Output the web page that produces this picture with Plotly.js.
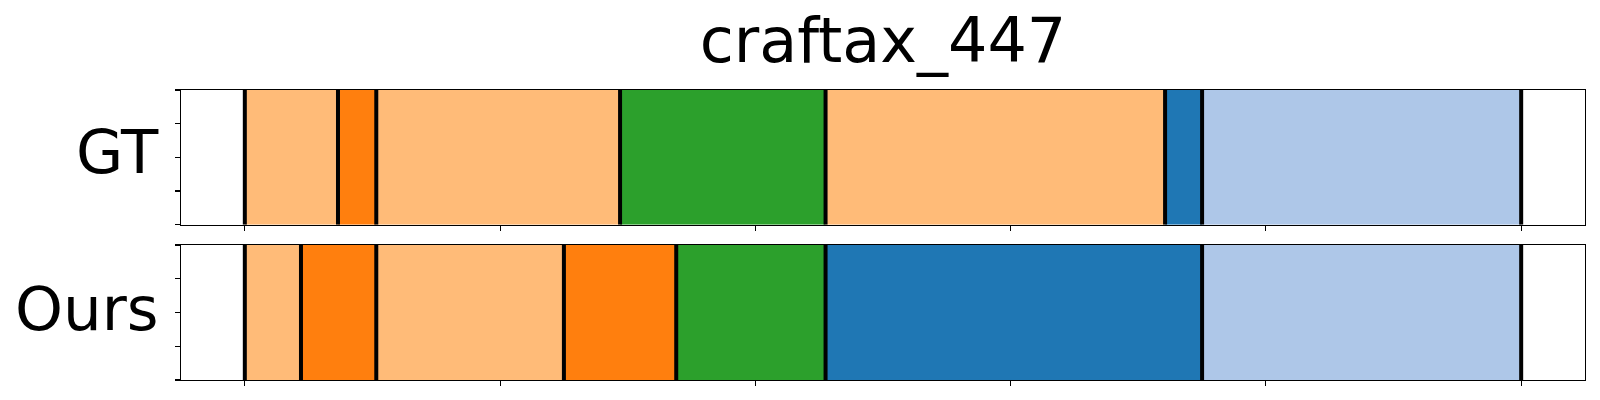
<!DOCTYPE html>
<html>
<head>
<meta charset="utf-8">
<script src="https://cdn.plot.ly/plotly-3.0.1.min.js"></script>
<style>html,body{margin:0;padding:0;background:#fff;}</style>
</head>
<body>
<div id="chart" style="width:1600px;height:400px;"></div>
<script>
// Data
const chartTitle = "craftax_447";
const rowLabels = ["GT", "Ours"];
const gtBoundaries = [0, 36.5, 51.5, 147, 227.5, 360.5, 375, 500];
const gtActions = ["lightorange", "orange", "lightorange", "green", "lightorange", "blue", "lightblue"];
const oursBoundaries = [0, 22, 51.5, 125, 169, 227.5, 375, 500];
const oursActions = ["lightorange", "orange", "lightorange", "orange", "green", "blue", "lightblue"];
const xTicks = [0, 100, 200, 300, 400, 500];
const yTicks = [0, 0.25, 0.5, 0.75, 1];

const palette = {
  lightorange: "#ffbb78",
  orange: "#ff7f0e",
  green: "#2ca02c",
  blue: "#1f77b4",
  lightblue: "#aec7e8"
};

function segTrace(bounds, actions, xa, ya) {
  const starts = bounds.slice(0, -1);
  const widths = starts.map((s, i) => bounds[i + 1] - s);
  return {
    type: "bar", orientation: "h",
    y: starts.map(() => 0.5), x: widths, base: starts, width: 1,
    marker: { color: actions.map(a => palette[a]), line: { width: 0 } },
    xaxis: xa, yaxis: ya, hoverinfo: "skip", showlegend: false
  };
}
function lineTrace(bounds, xa, ya) {
  const xs = [], ys = [];
  bounds.forEach(b => { xs.push(b, b, null); ys.push(0, 1, null); });
  return {
    type: "scatter", mode: "lines", x: xs, y: ys,
    line: { color: "#000", width: 4 },
    xaxis: xa, yaxis: ya, hoverinfo: "skip", showlegend: false, cliponaxis: false
  };
}

const traces = [
  segTrace(gtBoundaries, gtActions, "x", "y"),
  lineTrace(gtBoundaries, "x", "y"),
  segTrace(oursBoundaries, oursActions, "x2", "y2"),
  lineTrace(oursBoundaries, "x2", "y2")
];

const xr = [-25, 525];
function xaxis(anchor) {
  return {
    anchor: anchor, range: xr, tickvals: xTicks, showticklabels: false,
    ticks: "outside", ticklen: 5, tickwidth: 1.1, tickcolor: "#000",
    showline: true, linecolor: "#000", linewidth: 1.1, mirror: true,
    showgrid: false, zeroline: false, fixedrange: true
  };
}
function yaxis(anchor, domain) {
  return {
    anchor: anchor, domain: domain, range: [0, 1], tickvals: yTicks, showticklabels: false,
    ticks: "outside", ticklen: 5, tickwidth: 1.1, tickcolor: "#000",
    showline: true, linecolor: "#000", linewidth: 1.1, mirror: true,
    showgrid: false, zeroline: false, fixedrange: true
  };
}

const layout = {
  width: 1600, height: 400,
  margin: { l: 181, r: 15, t: 90, b: 20 },
  paper_bgcolor: "#fff", plot_bgcolor: "#fff",
  barmode: "overlay",
  font: { family: "DejaVu Sans", color: "#000" },
  title: {
    text: chartTitle, font: { size: 62, family: "DejaVu Sans", color: "#000" },
    x: 0.5, xref: "paper", y: 0.9, yref: "container", yanchor: "middle"
  },
  xaxis: xaxis("y"),
  yaxis: yaxis("x", [0.5355, 1]),
  xaxis2: xaxis("y2"),
  yaxis2: yaxis("x2", [0, 0.4655]),
  annotations: [
    { text: rowLabels[0], xref: "paper", yref: "paper", x: 0, y: 0.787, xanchor: "right", yanchor: "middle",
      xshift: -20, showarrow: false, font: { size: 61, family: "DejaVu Sans", color: "#000" } },
    { text: rowLabels[1], xref: "paper", yref: "paper", x: 0, y: 0.245, xanchor: "right", yanchor: "middle",
      xshift: -20, showarrow: false, font: { size: 61, family: "DejaVu Sans", color: "#000" } }
  ],
  showlegend: false
};

Plotly.newPlot("chart", traces, layout, { staticPlot: true, displayModeBar: false });
</script>
</body>
</html>
